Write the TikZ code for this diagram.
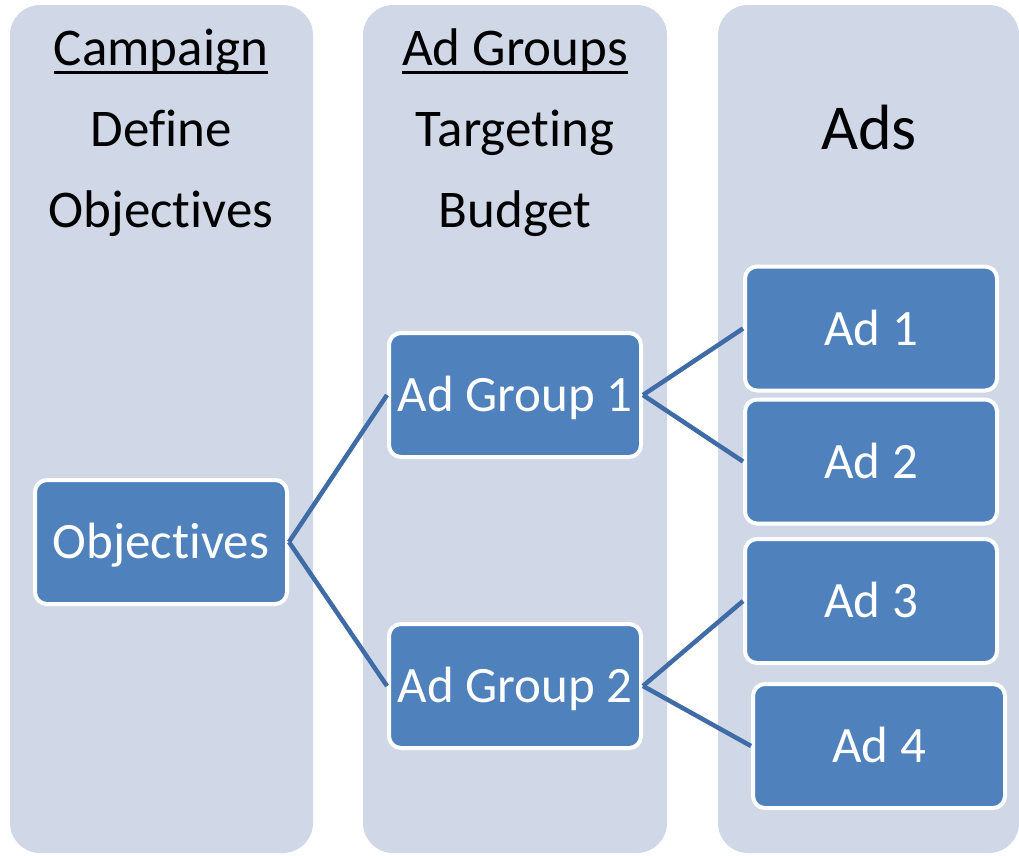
\documentclass[tikz,border=0pt]{standalone}
\usepackage{fontspec}
\setmainfont{Carlito}[Ligatures=NoCommon]
\usepackage{tikz}
\usetikzlibrary{positioning}
\definecolor{colbg}{HTML}{D0D8E8}
\definecolor{boxblue}{HTML}{4F81BD}
\definecolor{linkblue}{HTML}{3F6CA6}
\newcommand{\hdrul}[1]{\setbox0\hbox{#1}\rlap{\rule[-9pt]{\wd0}{3pt}}\box0}

\begin{document}
\begin{tikzpicture}[x=1pt,y=-1pt,
  hdr/.style={anchor=base, inner sep=0pt, font=\fontsize{53}{64}\selectfont},
  bigbox/.style={rectangle, rounded corners=12pt, fill=boxblue, draw=white, line width=4pt,
    minimum width=252pt, minimum height=124pt, inner sep=0pt, text=white,
    text height=33pt, text depth=0pt, font=\fontsize{51}{60}\selectfont},
  link/.style={draw=linkblue, line width=4.5pt}]
\useasboundingbox (0,0) rectangle (1019,855);
% Columns
\foreach \xa/\xb in {10/313, 363/667, 718/1019} {
  \fill[colbg, rounded corners=30pt] (\xa,5) rectangle (\xb,853);
}
% Column headers
\node[hdr] (campaign) at (161,65) {\hdrul{Campaign}};
\node[hdr] (define) at (161,146) {Define};
\node[hdr] (objtext) at (161,227) {Objectives};
\node[hdr] (adgroups) at (515,65) {\hdrul{Ad Groups}};
\node[hdr] (targeting) at (515,146) {Targeting};
\node[hdr] (budget) at (515,227) {Budget};
\node[hdr, font=\fontsize{64}{76}\selectfont] (ads) at (869,149) {Ads};
% Boxes
\node[bigbox] (obj) at (161,542) {Objectives};
\node[bigbox] (g1) at (515,395) {Ad Group 1};
\node[bigbox] (g2) at (515,686) {Ad Group 2};
\node[bigbox] (ad1) at (871,328.5) {Ad 1};
\node[bigbox] (ad2) at (871,461.5) {Ad 2};
\node[bigbox] (ad3) at (871,601) {Ad 3};
\node[bigbox] (ad4) at (879,746) {Ad 4};
% Connectors
\draw[link] (obj.east) -- (g1.west);
\draw[link] (obj.east) -- (g2.west);
\draw[link] (g1.east) -- (ad1.west);
\draw[link] (g1.east) -- (ad2.west);
\draw[link] (g2.east) -- (ad3.west);
\draw[link] (g2.east) -- (ad4.west);
\end{tikzpicture}
\end{document}
